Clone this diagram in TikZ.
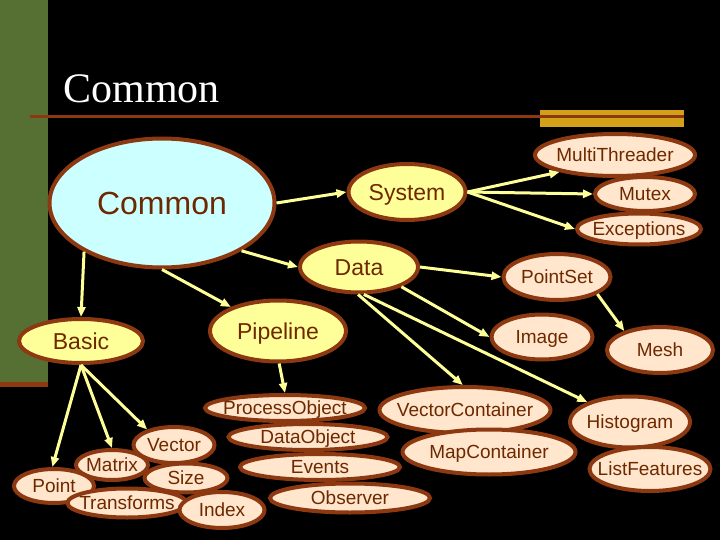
\documentclass[tikz,border=0pt]{standalone}
\usepackage{fontspec}
\setmainfont{Liberation Serif}
\setsansfont{Liberation Sans}
\usetikzlibrary{shapes.geometric,arrows.meta}
\definecolor{bargreen}{RGB}{86,112,52}
\definecolor{rim}{RGB}{140,56,16}
\definecolor{ink}{RGB}{110,40,0}
\definecolor{pale}{RGB}{255,255,153}
\definecolor{peach}{RGB}{255,230,204}
\definecolor{sky}{RGB}{204,255,255}
\definecolor{gold}{RGB}{212,160,23}
\newcommand{\tx}[1]{\hbox to 0pt{\hss#1\hss}} % text that does not widen the ellipse

\begin{document}
\begin{tikzpicture}[x=1pt,y=-1pt,
            oval/.style={ellipse,draw=rim,line width=4pt,inner sep=0pt,fill=peach,text=ink,
                font=\sffamily\fontsize{19}{22}\selectfont,text height=13.7pt,text depth=0pt},
            pkg/.style={oval,fill=pale,font=\sffamily\fontsize{23}{26}\selectfont,text height=16.5pt},
            sz/.style 2 args={minimum width=#1,minimum height=#2},
            link/.style={draw=pale,line width=3pt,-{Triangle[length=10pt,width=8pt]}}]
            \useasboundingbox (0,0) rectangle (720,540);
            \fill[black] (0,0) rectangle (720,540);              % Slide background
            \fill[bargreen] (0,0) rectangle (48,385);             % Green side bar
            \fill[rim] (0,382) rectangle (48,387);
            \fill[gold] (540,110) rectangle (684,127);            % Gold bar under title
            \draw[rim,line width=3pt] (30,117) -- (684,117);
            \node[anchor=base west,text=white,font=\fontsize{42}{46}\selectfont] (title) at (60,103) {Common};

            % Top level packages
            \node[oval,fill=sky,sz={225}{129},font=\sffamily\fontsize{32}{36}\selectfont,text height=23pt] (common) at (162,203) {\tx{Common}};
            \node[pkg,sz={117}{56}] (system) at (407,192) {\tx{System}};
            \node[pkg,sz={118}{51}] (data) at (359,267) {\tx{Data}};
            \node[pkg,sz={136}{61}] (pipeline) at (278,331) {\tx{Pipeline}};
            \node[pkg,sz={124}{44}] (basic) at (81,341) {\tx{Basic}};

            % System classes
            \node[oval,sz={160}{42}] (mthread) at (615,155) {\tx{MultiThreader}};
            \node[oval,sz={100}{34}] (mutex) at (645,194) {\tx{Mutex}};
            \node[oval,sz={124}{31}] (except) at (639,229) {\tx{Exceptions}};

            % Data classes
            \node[oval,sz={107}{46}] (pointset) at (557,277) {\tx{PointSet}};
            \node[oval,sz={101}{45}] (image) at (542,337) {\tx{Image}};
            \node[oval,sz={106}{46}] (mesh) at (660,350) {\tx{Mesh}};
            \node[oval,sz={171}{46}] (vcont) at (465,410) {\tx{VectorContainer}};
            \node[oval,sz={173}{45}] (mcont) at (489,452) {\tx{MapContainer}};
            \node[oval,sz={120}{51}] (histo) at (630,422) {\tx{Histogram}};
            \node[oval,sz={121}{44}] (listfeat) at (650,469) {\tx{ListFeatures}};

            % Pipeline classes
            \node[oval,sz={160}{26}] (procobj) at (285,408) {\tx{ProcessObject}};
            \node[oval,sz={159}{26}] (dataobj) at (308,437) {\tx{DataObject}};
            \node[oval,sz={160}{26}] (events) at (320,467) {\tx{Events}};
            \node[oval,sz={160}{29}] (observer) at (350,498) {\tx{Observer}};

            % Basic classes
            \node[oval,sz={81}{36}] (vector) at (174,445) {\tx{Vector}};
            \node[oval,sz={72}{30}] (matrix) at (112,465) {\tx{Matrix}};
            \node[oval,sz={80}{34}] (point) at (54,486) {\tx{Point}};
            \node[oval,sz={83}{29}] (size) at (186,478) {\tx{Size}};
            \node[oval,sz={119}{29}] (transforms) at (127,503) {\tx{Transforms}};
            \node[oval,sz={85}{36}] (index) at (222,510) {\tx{Index}};

            % Arrows
            \draw[link] (common.east) -- (system.west);
            \draw[link] (common.-31) -- (data.west);
            \draw[link] (common.south) -- (pipeline.153);
            \draw[link] (common.212) -- (basic.north);
            \draw[link] (system.east) -- (mthread.197);
            \draw[link] (system.east) -- (mutex.west);
            \draw[link] (system.east) -- (except.west);
            \draw[link] (data.east) -- (pointset.west);
            \draw[link] (data.-25) -- (image.west);
            \draw[link] (data.-92) -- (vcont.95);
            \draw[link] (data.-80) -- (histo.155);
            \draw[link] (pointset.-23) -- (mesh.152);
            \draw[link] (pipeline.-88) -- (procobj.north);
            \draw[link] (basic.south) -- (point.95);
            \draw[link] (basic.south) -- (matrix.north);
            \draw[link] (basic.south) -- (vector.150);
        \end{tikzpicture}
\end{document}
